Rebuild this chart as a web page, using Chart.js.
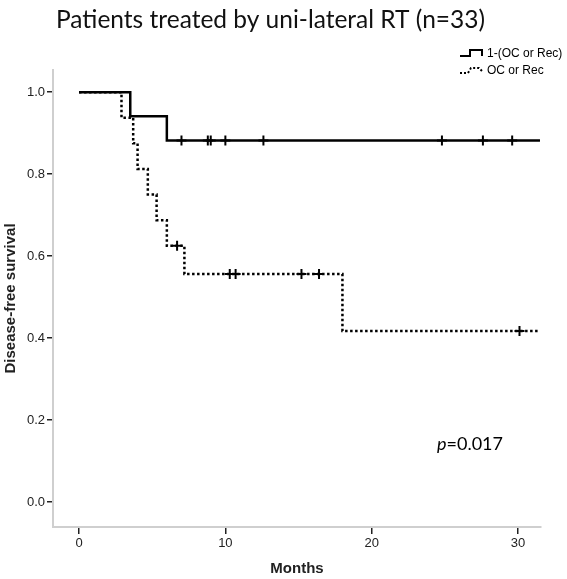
<!DOCTYPE html>
<html>
<head>
<meta charset="utf-8">
<script src="https://cdn.jsdelivr.net/npm/chart.js@4.4.1/dist/chart.umd.min.js"></script>
<style>
  html, body { margin: 0; padding: 0; background: #fff; }
  #wrap { width: 567px; height: 579px; }
</style>
</head>
<body>
<div id="wrap"><canvas id="km" width="567" height="579"></canvas></div>
<script>
'use strict';

// Kaplan-Meier steps (months, survival)
var groupNames = ['1-(OC or Rec)', 'OC or Rec'];

var solidTimes = [0, 3.5, 6.0, 31.5];
var solidSurv = [1.0, 0.941, 0.882, 0.882];
var solidCensorTimes = [7.0, 8.8, 9.0, 10.0, 12.6, 24.8, 27.6, 29.6];
var solidCensorSurv = [0.882, 0.882, 0.882, 0.882, 0.882, 0.882, 0.882, 0.882];

var dashTimes = [0, 2.9, 3.7, 4.0, 4.7, 5.3, 6.0, 7.2, 18.0, 31.5];
var dashSurv = [1.0, 0.9375, 0.875, 0.8125, 0.75, 0.6875, 0.625, 0.556, 0.417, 0.417];
var dashCensorTimes = [6.7, 10.3, 10.7, 15.2, 16.4, 30.1];
var dashCensorSurv = [0.625, 0.556, 0.556, 0.556, 0.556, 0.417];

var xTicks = [0, 10, 20, 30];
var yTicks = [0.0, 0.2, 0.4, 0.6, 0.8, 1.0];

function pts(xs, ys) {
	var out = [];
	for (var i = 0; i < xs.length; i++) {
		out.push({ x: xs[i], y: ys[i] });
	}
	return out;
}

// legend with the little step icons + the p value
var extras = {
	id: 'extras',
	afterDraw: function(chart) {
		var ctx = chart.ctx;
		ctx.save();
		ctx.strokeStyle = '#000';
		ctx.fillStyle = '#000';
		ctx.lineWidth = 2;

		// solid icon
		ctx.beginPath();
		ctx.moveTo(460, 56);
		ctx.lineTo(470, 56);
		ctx.lineTo(470, 50);
		ctx.lineTo(482, 50);
		ctx.lineTo(482, 56);
		ctx.stroke();

		// dotted icon
		ctx.setLineDash([2, 2]);
		ctx.beginPath();
		ctx.moveTo(460, 73);
		ctx.lineTo(468, 73);
		ctx.lineTo(471, 68);
		ctx.lineTo(479, 68);
		ctx.lineTo(482, 71);
		ctx.stroke();
		ctx.setLineDash([]);

		ctx.font = '12px "Liberation Sans", Arial, sans-serif';
		ctx.textBaseline = 'middle';
		ctx.textAlign = 'left';
		ctx.fillText(groupNames[0], 487, 54);
		ctx.fillText(groupNames[1], 487, 71);

		ctx.font = 'italic 18px Lato, sans-serif';
		ctx.fillText('p', 437, 444);
		var w = ctx.measureText('p').width;
		ctx.font = '18px Lato, sans-serif';
		ctx.fillText('=0.017', 437 + w, 444);
		ctx.restore();
	}
};

var ctx = document.getElementById('km');
var chart = new Chart(ctx, {
	type: 'line',
	data: {
		datasets: [{
			label: groupNames[0],
			data: pts(solidTimes, solidSurv),
			stepped: 'before',
			borderColor: '#000',
			borderWidth: 2.5,
			pointRadius: 0,
			fill: false
		}, {
			label: groupNames[1],
			data: pts(dashTimes, dashSurv),
			stepped: 'before',
			borderColor: '#000',
			borderWidth: 2.5,
			borderDash: [2.5, 2.5],
			pointRadius: 0,
			fill: false
		}, {
			type: 'scatter',
			label: 'censored 1',
			data: pts(solidCensorTimes, solidCensorSurv),
			pointStyle: 'cross',
			pointRadius: 5,
			borderColor: '#000',
			borderWidth: 2,
			showLine: false
		}, {
			type: 'scatter',
			label: 'censored 2',
			data: pts(dashCensorTimes, dashCensorSurv),
			pointStyle: 'cross',
			pointRadius: 5,
			borderColor: '#000',
			borderWidth: 2,
			showLine: false
		}]
	},
	options: {
		responsive: false,
		animation: false,
		layout: { padding: { top: 0, left: 0, right: 26, bottom: 0 } },
		plugins: {
			legend: { display: false },
			tooltip: { enabled: false },
			title: {
				display: true,
				text: 'Patients treated by uni-lateral RT (n=33)',
				color: '#111',
				font: { family: 'Lato, sans-serif', size: 24.5, weight: 'normal' },
				padding: { top: 5, bottom: 35.6 }
			}
		},
		scales: {
			x: {
				type: 'linear',
				min: -1.78,
				max: 31.57,
				afterFit: function(s) { s.height = 52; },
				afterBuildTicks: function(s) {
					s.ticks = xTicks.map(function(v) { return { value: v }; });
				},
				border: { color: '#cfcfcf', width: 2 },
				grid: { display: true, drawOnChartArea: false, drawTicks: true, tickLength: 7, tickColor: '#222', lineWidth: 1.5 },
				ticks: {
					color: '#222',
					padding: 2,
					font: { family: '"Liberation Sans", Arial, sans-serif', size: 13 }
				},
				title: {
					display: true,
					text: 'Months',
					color: '#222',
					font: { family: '"Liberation Sans", Arial, sans-serif', size: 15, weight: 'bold' },
					padding: { top: 0, bottom: 1 }
				}
			},
			y: {
				type: 'linear',
				min: -0.061,
				max: 1.054,
				afterFit: function(s) { s.width = 53; },
				afterBuildTicks: function(s) {
					s.ticks = yTicks.map(function(v) { return { value: v }; });
				},
				border: { color: '#cfcfcf', width: 2 },
				grid: { display: true, drawOnChartArea: false, drawTicks: true, tickLength: 6, tickColor: '#222', lineWidth: 1.5 },
				ticks: {
					color: '#222',
					padding: 2,
					font: { family: '"Liberation Sans", Arial, sans-serif', size: 13 },
					callback: function(v) { return Number(v).toFixed(1); }
				},
				title: {
					display: true,
					text: 'Disease-free survival',
					color: '#222',
					font: { family: '"Liberation Sans", Arial, sans-serif', size: 15, weight: 'bold' },
					padding: { top: 2, bottom: 0 }
				}
			}
		}
	},
	plugins: [extras]
});
</script>
</body>
</html>
